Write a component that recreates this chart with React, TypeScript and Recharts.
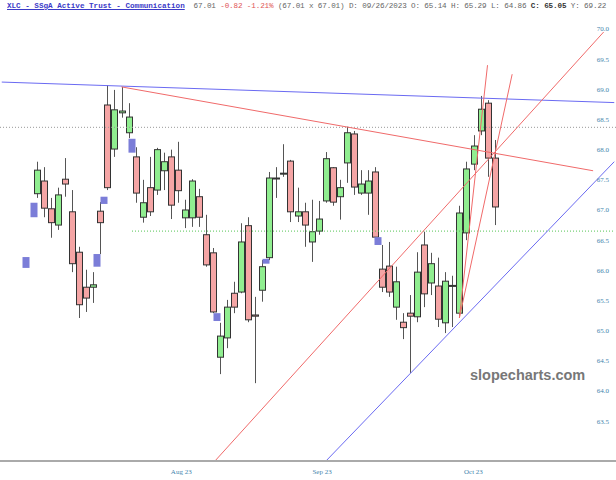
import { ComposedChart, Bar, XAxis, YAxis, ReferenceLine } from 'recharts';

if (typeof document !== 'undefined') document.body.style.margin = '0';

// XLC daily sessions, left to right
const opens = [
  67.27, 67.48, 67.02, 66.75, 67.51, 66.97, 66.3, 65.72, 65.72, 66.98,
  68.74, 68.01, 68.61, 68.28, 67.88, 66.88, 67.37, 67.33, 67.65, 67.88,
  67.66, 66.87, 66.87, 67.22, 66.59, 66.29, 64.56, 64.88, 65.62, 65.64,
  66.74, 65.26, 65.67, 66.21, 67.52, 67.6, 67.81, 66.9, 66.97, 66.47,
  66.65, 67.15, 67.7, 67.22, 67.78, 68.26, 67.28, 67.28, 67.63, 66.02,
  66.07, 65.39, 65.14, 65.29, 65.23, 66.42, 65.79, 65.74, 65.13, 65.74,
  65.29, 66.62, 67.76, 68.31, 68.77, 67.86,
];
const highs = [
  67.8, 67.71, 67.2, 67.37, 67.86, 67.33, 66.39, 66.01, 65.97, 67.13,
  69.07, 68.99, 69.04, 68.77, 68.04, 67.5, 67.88, 68.03, 67.95, 68.0,
  68.13, 67.17, 67.51, 67.35, 66.92, 66.37, 65.13, 65.51, 65.81, 66.78,
  66.88, 65.56, 66.17, 67.63, 67.71, 68.09, 67.83, 67.37, 67.12, 67.17,
  67.15, 67.96, 67.71, 67.5, 68.38, 68.31, 67.66, 67.66, 67.71, 66.42,
  66.47, 66.06, 65.29, 65.59, 66.3, 66.64, 66.29, 66.21, 65.97, 65.91,
  67.07, 67.8, 68.24, 68.89, 68.82, 68.16,
];
const lows = [
  67.2, 66.88, 66.54, 66.67, 67.22, 65.97, 65.21, 65.31, 65.46, 66.27,
  67.33, 67.88, 68.53, 68.19, 67.12, 66.79, 66.9, 67.25, 67.33, 66.85,
  67.12, 66.7, 66.72, 66.72, 66.06, 65.29, 64.28, 64.71, 65.29, 65.62,
  65.14, 64.13, 65.48, 66.17, 67.2, 67.55, 66.8, 66.8, 66.39, 66.14,
  66.59, 67.12, 67.07, 66.84, 67.45, 67.25, 67.25, 66.92, 66.5, 65.64,
  65.56, 65.18, 64.86, 64.3, 65.14, 65.39, 65.59, 65.06, 64.96, 65.06,
  65.21, 66.5, 67.66, 68.24, 67.55, 66.75,
];
const closes = [
  67.66, 67.03, 66.79, 67.25, 67.43, 66.11, 65.43, 65.54, 65.76, 66.79,
  67.37, 68.66, 68.64, 68.54, 67.28, 67.12, 66.97, 68.0, 67.8, 67.08,
  67.32, 67.0, 67.48, 66.88, 66.09, 65.31, 64.91, 65.39, 65.39, 66.47,
  65.18, 65.24, 66.06, 67.53, 67.53, 67.61, 66.97, 66.97, 66.75, 66.64,
  66.85, 67.85, 67.13, 67.37, 68.28, 67.38, 67.43, 67.48, 66.55, 65.72,
  65.64, 65.81, 65.05, 65.24, 65.97, 65.61, 66.11, 65.19, 65.82, 65.75,
  66.95, 67.68, 68.06, 68.67, 67.86, 67.05,
];

// price gaps, drawn between session k and k+1
const gapAfter = [-2, -1, 8, 9, 13, 25, 32, 48];
const gapLows = [66.04, 66.88, 66.06, 67.1, 67.95, 65.16, 66.11, 66.42];
const gapHighs = [66.22, 67.12, 66.27, 67.22, 68.18, 65.29, 66.19, 66.55];

// trend lines as [session index, price] pairs
const topResistance = [[-5, 69.12], [82, 68.78]];
const redDown = [[12, 69.04], [79, 67.65]];
const redUp = [[20, 62.16], [80.5, 69.95]];
const blueUp = [[37.5, 62.41], [82, 67.8]];
const fanA = [[60, 65.21], [64, 69.4]];
const fanB = [[60, 65.21], [67.5, 69.25]];
const greenLevel = 66.65;
const greenFrom = 13.5;
const grayLevel = 68.37;

const monthTicks = [20.5, 40.5, 62];
const monthLabels = ['Aug 23', 'Sep 23', 'Oct 23'];
const priceTicks = [63.5, 64, 64.5, 65, 65.5, 66, 66.5, 67, 67.5, 68, 68.5, 69, 69.5, 70];

const LEAD = 10;
const SLOTS = 175;
const slotOf = (i: number) => LEAD + 2 * i;

type Row = {
  slot: number;
  kind: 'candle' | 'gap' | null;
  range: [number, number] | null;
  open?: number;
  close?: number;
};

const chartData: Row[] = Array.from({ length: SLOTS }, (_, slot) => ({
  slot,
  kind: null,
  range: null,
}));
opens.forEach((o, k) => {
  const s = slotOf(k);
  chartData[s] = { slot: s, kind: 'candle', range: [lows[k], highs[k]], open: o, close: closes[k] };
});
gapAfter.forEach((k, j) => {
  const s = slotOf(k) + 1;
  chartData[s] = { slot: s, kind: 'gap', range: [gapLows[j], gapHighs[j]] };
});

const seg = (pts: number[][]) => pts.map(([i, p]) => ({ x: slotOf(i), y: p }));

const Candle = (props: any) => {
  const { x, y, width, height, payload } = props;
  if (!payload || !payload.range || !isFinite(y) || !isFinite(height)) return <g />;
  const [lo, hi] = payload.range;
  const cx = Math.round(x + width / 2);
  const per = height / (hi - lo);
  const py = (v: number) => y + (hi - v) * per;

  if (payload.kind === 'gap') {
    return <rect x={cx - 3.5} y={y} width={7} height={Math.max(height, 1)} fill="#7b7dd8" />;
  }
  const up = payload.close >= payload.open;
  const top = py(Math.max(payload.open, payload.close));
  const bot = py(Math.min(payload.open, payload.close));
  return (
    <g>
      <line x1={cx + 0.5} x2={cx + 0.5} y1={y} y2={y + height} stroke="#555" strokeWidth={1} />
      <rect
        x={cx - 2.5}
        y={top}
        width={6}
        height={Math.max(bot - top, 1)}
        fill={up ? '#90ee90' : '#f5a5a5'}
        stroke="#333"
        strokeWidth={1}
      />
    </g>
  );
};

const axisText = { fill: '#3f85ad', fontSize: 7, fontFamily: 'Liberation Serif' };

const App = () => {
  return (
    <div style={{ position: 'relative', width: 616, height: 480, background: '#fff' }}>
      <ComposedChart
        width={616}
        height={480}
        data={chartData}
        margin={{ top: 0, right: 0, bottom: 0, left: 0 }}
      >
        <XAxis
          dataKey="slot"
          type="category"
          height={19}
          ticks={monthTicks.map(slotOf)}
          interval={0}
          tickFormatter={(v: number) => monthLabels[monthTicks.map(slotOf).indexOf(v)] ?? ''}
          tickLine={false}
          axisLine={{ stroke: '#aaa', strokeWidth: 2 }}
          tick={axisText}
        />
        <YAxis
          orientation="right"
          mirror
          type="number"
          domain={[62.84, 70.48]}
          allowDataOverflow
          ticks={priceTicks}
          interval={0}
          tickFormatter={(v: number) => v.toFixed(1)}
          axisLine={false}
          tickLine={false}
          tickSize={4}
          tickMargin={3}
          tick={axisText}
        />
        <ReferenceLine y={grayLevel} stroke="#999" strokeDasharray="1 2" ifOverflow="hidden" />
        <ReferenceLine
          segment={seg([[greenFrom, greenLevel], [82, greenLevel]])}
          stroke="#55c455"
          strokeDasharray="1 2"
          ifOverflow="hidden"
        />
        <Bar dataKey="range" isAnimationActive={false} shape={<Candle />} />
        <ReferenceLine segment={seg(topResistance)} stroke="#6a6af2" ifOverflow="hidden" />
        <ReferenceLine segment={seg(blueUp)} stroke="#6a6af2" ifOverflow="hidden" />
        <ReferenceLine segment={seg(redDown)} stroke="#f06a6a" ifOverflow="hidden" />
        <ReferenceLine segment={seg(redUp)} stroke="#f06a6a" ifOverflow="hidden" />
        <ReferenceLine segment={seg(fanA)} stroke="#f06a6a" ifOverflow="hidden" />
        <ReferenceLine segment={seg(fanB)} stroke="#f06a6a" ifOverflow="hidden" />
      </ComposedChart>

      <div
        style={{
          position: 'absolute',
          left: 7,
          top: 1,
          width: 609,
          overflow: 'hidden',
          whiteSpace: 'pre',
          fontFamily: 'Liberation Mono',
          fontSize: 7.6,
          lineHeight: '10px',
          color: '#666',
        }}
      >
        <span style={{ color: '#3b3bc8', textDecoration: 'underline', fontWeight: 'bold' }}>
          XLC - SSgA Active Trust - Communication
        </span>
        <span style={{ letterSpacing: -0.12 }}>
          {'  67.01 '}
          <span style={{ color: '#e05555' }}>-0.82 -1.21%</span>
          {' (67.01 x 67.01) D: 09/26/2023 O: 65.14 H: 65.29 L: 64.86 '}
          <span style={{ fontWeight: 'bold', color: '#333' }}>C: 65.05</span>
          {' Y: 69.22'}
        </span>
      </div>

      <div
        style={{
          position: 'absolute',
          left: 470,
          top: 367,
          fontFamily: 'Liberation Sans',
          fontWeight: 'bold',
          fontSize: 14.5,
          color: '#777',
        }}
      >
        slopecharts.com
      </div>
    </div>
  );
};

export default App;
